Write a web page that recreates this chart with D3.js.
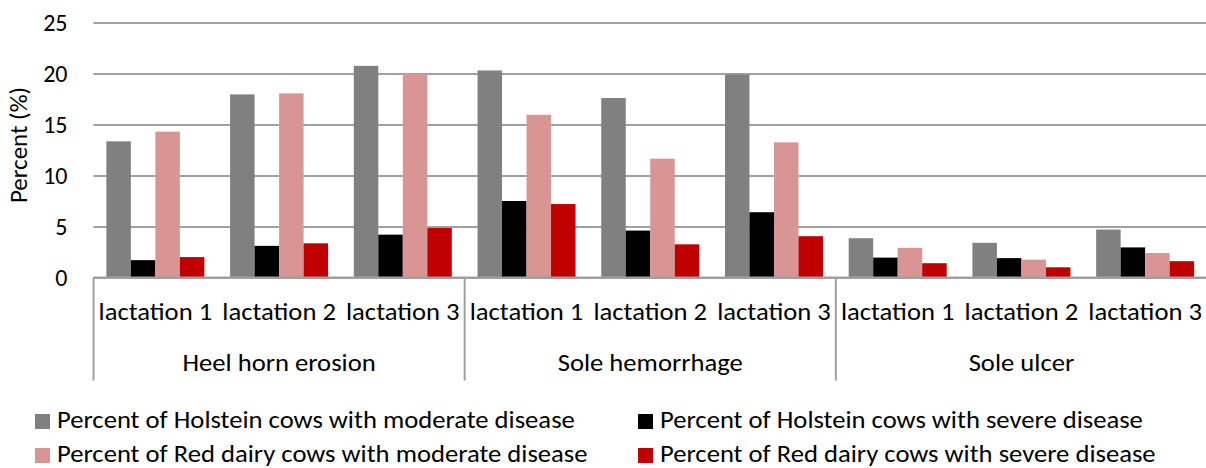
<!DOCTYPE html>
<html>
<head>
<meta charset="utf-8">
<script src="https://cdn.jsdelivr.net/npm/d3@7"></script>
<style>
    body { margin: 0; background: #fff; }
    svg text { font-family: Carlito, Calibri, "Open Sans", sans-serif; fill: #000; }
</style>
</head>
<body>
<div id="vis"></div>
<script>
// Chart data
var groups = ["Heel horn erosion", "Sole hemorrhage", "Sole ulcer"];
var lactations = ["lactation 1", "lactation 2", "lactation 3"];
var seriesNames = [
    "Percent of Holstein cows with moderate disease",
    "Percent of Holstein cows with severe disease",
    "Percent of Red dairy cows with moderate disease",
    "Percent of Red dairy cows with severe disease"
];
var seriesColors = ["#808080", "#000000", "#d99594", "#c00000"];
// one value per (group, lactation), in group order
var holsteinModerate = [13.35, 17.95, 20.75, 20.3, 17.6, 19.9, 3.85, 3.4, 4.7];
var holsteinSevere   = [1.7, 3.1, 4.2, 7.5, 4.6, 6.4, 1.95, 1.9, 2.95];
var redModerate      = [14.3, 18.05, 20.0, 15.95, 11.65, 13.25, 2.9, 1.75, 2.4];
var redSevere        = [2.0, 3.35, 4.85, 7.2, 3.25, 4.05, 1.4, 1.0, 1.6];
var yTicks = [0, 5, 10, 15, 20, 25];

(function() {
    var width = 1206;
    var height = 468;
    var fontSize = 24;
    var stretch = "scale(1.11,1)"; // the reference text is a bit wider than Calibri
    var margin = { top: 22.5, right: -1, bottom: 190.5, left: 93.5 };
    var drawWidth = width - margin.left - margin.right;
    var drawHeight = height - margin.top - margin.bottom;

    var svg = d3.select("#vis").append("svg").attr("width", width).attr("height", height);
    var g = svg.append("g").attr("transform", "translate(" + margin.left + "," + margin.top + ")");

    var allSeries = [holsteinModerate, holsteinSevere, redModerate, redSevere];

    // flat list of categories: group x lactation
    var categories = [];
    groups.forEach(function(gr) {
        lactations.forEach(function(l) { categories.push({ group: gr, lact: l, key: gr + "|" + l }); });
    });

    /************ scales ************/
    var xScale = d3.scaleBand().domain(categories.map(function(c) { return c.key; })).range([0, drawWidth]);
    var groupScale = d3.scaleBand().domain(groups).range([0, drawWidth]);
    var xInner = d3.scaleBand().domain(d3.range(4)).range([0, xScale.bandwidth()]).paddingInner(0).paddingOuter(0.525);
    var yScale = d3.scaleLinear().domain([0, 25]).range([drawHeight, 0]);

    /************ gridlines + y axis ************/
    var yAxis = d3.axisLeft(yScale).tickValues(yTicks).tickSize(-drawWidth).tickPadding(26);
    var yAxisG = g.append("g").attr("class", "axis").call(yAxis);
    yAxisG.attr("font-family", null).attr("font-size", fontSize);
    yAxisG.select(".domain").remove();
    yAxisG.selectAll(".tick line").attr("stroke", "#a0a0a0").attr("stroke-width", 2);
    yAxisG.selectAll(".tick text").attr("fill", "#000");

    svg.append("text")
        .attr("transform", "translate(" + 27 + "," + (margin.top + drawHeight / 2 - 5) + ") rotate(-90)")
        .attr("text-anchor", "middle")
        .attr("font-size", 25)
        .text("Percent (%)");

    /************ bars ************/
    var barData = [];
    categories.forEach(function(c, i) {
        allSeries.forEach(function(s, j) {
            barData.push({ key: c.key, s: j, value: s[i] });
        });
    });

    g.selectAll("rect.bar").data(barData).enter().append("rect")
        .attr("class", "bar")
        .attr("x", function(d) { return xScale(d.key) + xInner(d.s); })
        .attr("width", xInner.bandwidth())
        .attr("y", function(d) { return yScale(d.value); })
        .attr("height", function(d) { return drawHeight - yScale(d.value); })
        .attr("fill", function(d) { return seriesColors[d.s]; });

    /************ x axis: lactations + groups ************/
    g.append("line")
        .attr("x1", 0).attr("x2", drawWidth)
        .attr("y1", drawHeight).attr("y2", drawHeight)
        .attr("stroke", "#a0a0a0").attr("stroke-width", 2);

    var seps = groups.map(function(gr) { return groupScale(gr); });
    g.selectAll("line.sep").data(seps).enter().append("line")
        .attr("class", "sep")
        .attr("x1", function(d) { return d; }).attr("x2", function(d) { return d; })
        .attr("y1", drawHeight).attr("y2", drawHeight + 103)
        .attr("stroke", "#a0a0a0").attr("stroke-width", 2);

    g.selectAll("text.lact").data(categories).enter().append("text")
        .attr("class", "lact")
        .attr("transform", function(d) {
            return "translate(" + (xScale(d.key) + xScale.bandwidth() / 2) + "," + (drawHeight + 42) + ") " + stretch;
        })
        .attr("text-anchor", "middle")
        .attr("font-size", fontSize)
        .text(function(d) { return d.lact; });

    g.selectAll("text.grp").data(groups).enter().append("text")
        .attr("class", "grp")
        .attr("transform", function(d) {
            return "translate(" + (groupScale(d) + groupScale.bandwidth() / 2) + "," + (drawHeight + 93) + ") " + stretch;
        })
        .attr("text-anchor", "middle")
        .attr("font-size", fontSize)
        .text(function(d) { return d; });

    /************ legend ************/
    var legendPos = [[35, 414], [638, 414], [35, 448], [638, 448]];
    var legend = svg.selectAll("g.legend").data(seriesNames).enter().append("g")
        .attr("class", "legend")
        .attr("transform", function(d, i) { return "translate(" + legendPos[i][0] + "," + legendPos[i][1] + ")"; });
    legend.append("rect")
        .attr("width", 15).attr("height", 15)
        .attr("fill", function(d, i) { return seriesColors[i]; });
    legend.append("text")
        .attr("transform", "translate(22,13.5) " + stretch)
        .attr("font-size", fontSize)
        .text(function(d) { return d; });
})();
</script>
</body>
</html>
